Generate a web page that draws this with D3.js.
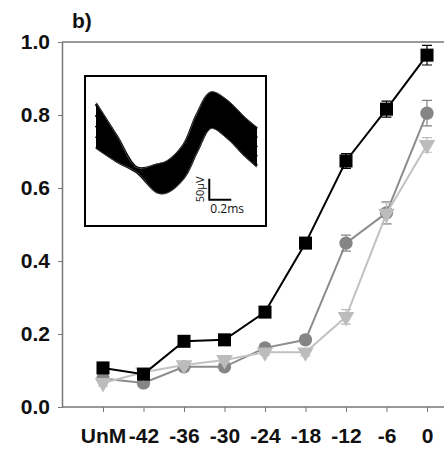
<!DOCTYPE html>
<html>
<head>
<meta charset="utf-8">
<script src="https://cdn.jsdelivr.net/npm/d3@7.9.0/dist/d3.min.js"></script>
<style>
  body { margin: 0; background: #fff; }
  svg { display: block; font-family: "Liberation Sans", Arial, sans-serif; }
</style>
</head>
<body>
<svg id="chart" width="444" height="453"></svg>
<script>
// categories and series
const categories = ['UnM', '-42', '-36', '-30', '-24', '-18', '-12', '-6', '0'];
const squareVals = [0.107, 0.090, 0.180, 0.184, 0.260, 0.449, 0.674, 0.816, 0.964];
const squareErr  = [0.008, 0.008, 0.008, 0.008, 0.008, 0.010, 0.020, 0.022, 0.027];
const circleVals = [0.078, 0.066, 0.110, 0.110, 0.162, 0.184, 0.449, 0.532, 0.805];
const circleErr  = [0.008, 0.008, 0.008, 0.008, 0.008, 0.010, 0.022, 0.030, 0.035];
const triVals    = [0.066, 0.095, 0.115, 0.129, 0.150, 0.150, 0.247, 0.530, 0.718];
const triErr     = [0.008, 0.008, 0.008, 0.008, 0.008, 0.010, 0.020, 0.030, 0.020];
const yTicks = [0, 0.2, 0.4, 0.6, 0.8, 1.0];

// inset waveform envelope (time in ms, amplitude in µV)
const waveT     = [0, 0.19, 0.373, 0.555, 0.645, 0.80, 0.918, 1.045, 1.19, 1.345, 1.464];
const waveUpper = [157, 79, 5, 12, 19, 60, 131, 183, 164, 124, 98];
const waveLower = [55, 21, -5, -52, -52, -17, 45, 102, 79, 38, 10];
const traceFracs = [0, 0.25, 0.5, 0.75, 1];

const svg = d3.select('#chart');

const x = d3.scalePoint().domain(categories).range([103, 427]);
const y = d3.scaleLinear().domain([0, 1]).range([407, 42]);

const axisColor = '#777';

// frame: top line
svg.append('line')
  .attr('x1', 62).attr('x2', 444)
  .attr('y1', y(1)).attr('y2', y(1))
  .attr('stroke', axisColor).attr('stroke-width', 1.5);

// y axis
const yAxis = svg.append('g')
  .attr('transform', 'translate(62,0)')
  .call(d3.axisLeft(y).tickValues(yTicks).tickFormat(d3.format('.1f')).tickSize(4).tickSizeOuter(0));
yAxis.select('.domain').attr('stroke', axisColor).attr('stroke-width', 1.5);
yAxis.selectAll('.tick line').attr('stroke', axisColor);
yAxis.selectAll('.tick text')
  .attr('x', -12)
  .attr('fill', '#111')
  .style('font-size', '21px')
  .style('font-weight', 'bold');

// x axis
const xAxis = svg.append('g')
  .attr('transform', `translate(0,${y(0)})`)
  .call(d3.axisBottom(x).tickSize(5).tickSizeOuter(0));
xAxis.select('.domain').attr('d', `M62,0H444`).attr('stroke', axisColor).attr('stroke-width', 1.5);
xAxis.selectAll('.tick line').attr('stroke', axisColor);
xAxis.selectAll('.tick text')
  .attr('y', 21)
  .attr('fill', '#111')
  .style('font-size', '21px')
  .style('font-weight', 'bold');

// panel label
svg.append('text')
  .attr('x', 72).attr('y', 28)
  .attr('fill', '#111')
  .style('font-size', '21px')
  .style('font-weight', 'bold')
  .text('b)');

// inset
const inset = svg.append('g');
inset.append('rect')
  .attr('x', 85).attr('y', 76)
  .attr('width', 181).attr('height', 150)
  .attr('fill', '#fff')
  .attr('stroke', '#000').attr('stroke-width', 2);

const tScale = d3.scaleLinear().domain([0, 1.464]).range([96, 257]);
const vScale = d3.scaleLinear().domain([0, 50]).range([170, 149]);
const waveData = waveT.map((t, i) => ({ t, hi: waveUpper[i], lo: waveLower[i] }));

inset.append('path')
  .datum(waveData)
  .attr('d', d3.area()
    .x(d => tScale(d.t))
    .y0(d => vScale(d.lo))
    .y1(d => vScale(d.hi))
    .curve(d3.curveCatmullRom))
  .attr('fill', '#000');

traceFracs.forEach(f => {
  inset.append('path')
    .datum(waveData)
    .attr('d', d3.line()
      .x(d => tScale(d.t))
      .y(d => vScale(d.lo + (d.hi - d.lo) * f))
      .curve(d3.curveCatmullRom))
    .attr('fill', 'none')
    .attr('stroke', '#000')
    .attr('stroke-width', 3);
});

// faint outlines along the band edges
[[-0.04, 'lo'], [1.04, 'hi']].forEach(([f]) => {
  inset.append('path')
    .datum(waveData)
    .attr('d', d3.line()
      .x(d => tScale(d.t))
      .y(d => vScale(d.lo + (d.hi - d.lo) * f))
      .curve(d3.curveCatmullRom))
    .attr('fill', 'none')
    .attr('stroke', '#444')
    .attr('stroke-width', 1);
});

// scale bar
const barT0 = 1.03, barT1 = 1.23, barV0 = -71, barV1 = -21;
inset.append('path')
  .attr('d', `M${tScale(barT0)},${vScale(barV1)}V${vScale(barV0)}H${tScale(barT1)}`)
  .attr('fill', 'none')
  .attr('stroke', '#000')
  .attr('stroke-width', 2);
inset.append('text')
  .attr('transform', `translate(${tScale(barT0) - 5},${vScale((barV0 + barV1) / 2)}) rotate(-90)`)
  .attr('text-anchor', 'middle')
  .style('font-family', '"Open Sans", sans-serif')
  .style('font-size', '11px')
  .attr('fill', '#111')
  .text('50μV');
inset.append('text')
  .attr('x', tScale(barT0) + 1)
  .attr('y', vScale(barV0) + 13)
  .style('font-family', '"Open Sans", sans-serif')
  .style('font-size', '12px')
  .attr('fill', '#111')
  .text('0.2ms');

// series
const series = [
  { vals: circleVals, err: circleErr, color: '#858585', line: '#8c8c8c', shape: 'circle' },
  { vals: triVals, err: triErr, color: '#bcbcbc', line: '#c2c2c2', shape: 'triangle' },
  { vals: squareVals, err: squareErr, color: '#000', line: '#000', shape: 'square' }
];

const symbols = {
  circle: d3.symbol().type(d3.symbolCircle).size(140),
  square: d3.symbol().type(d3.symbolSquare).size(170),
  triangle: d3.symbol().type(d3.symbolTriangle).size(120)
};

series.forEach(s => {
  const pts = categories.map((c, i) => ({ c, v: s.vals[i], e: s.err[i] }));
  const g = svg.append('g');

  g.append('path')
    .datum(pts)
    .attr('d', d3.line().x(d => x(d.c)).y(d => y(d.v)))
    .attr('fill', 'none')
    .attr('stroke', s.line)
    .attr('stroke-width', 2);

  g.selectAll('.err')
    .data(pts)
    .join('path')
    .attr('class', 'err')
    .attr('d', d => {
      const cx = x(d.c), t = y(d.v + d.e), b = y(d.v - d.e);
      return `M${cx - 5},${t}H${cx + 5}M${cx},${t}V${b}M${cx - 5},${b}H${cx + 5}`;
    })
    .attr('fill', 'none')
    .attr('stroke', s.color)
    .attr('stroke-width', 1.2);

  g.selectAll('.pt')
    .data(pts)
    .join('path')
    .attr('class', 'pt')
    .attr('d', symbols[s.shape])
    .attr('transform', d => `translate(${x(d.c)},${y(d.v)})${s.shape === 'triangle' ? ' rotate(180)' : ''}`)
    .attr('fill', s.color);
});
</script>
</body>
</html>
